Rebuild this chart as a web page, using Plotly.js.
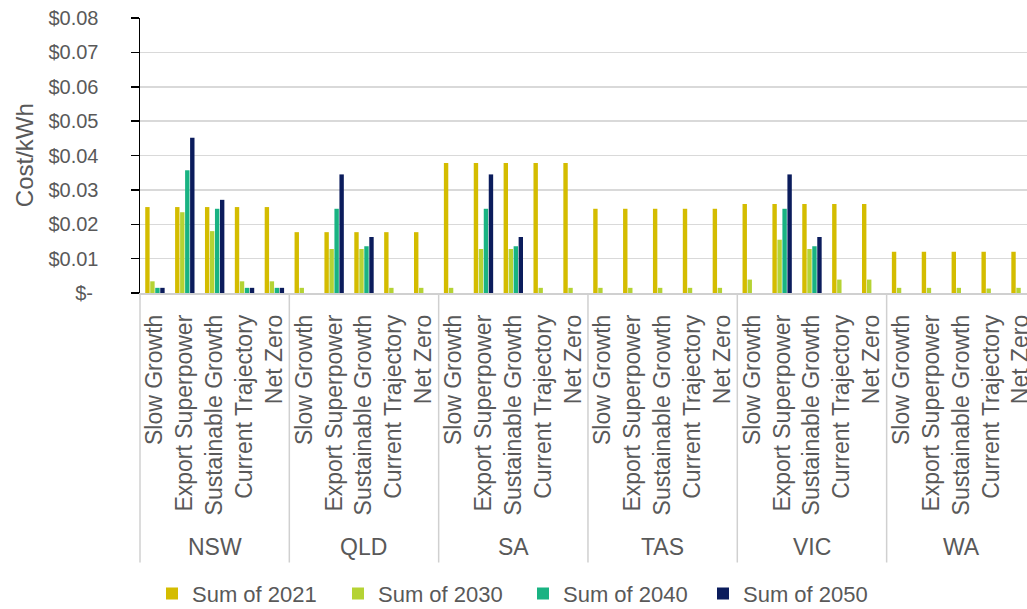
<!DOCTYPE html>
<html>
<head>
<meta charset="utf-8">
<script src="https://cdn.plot.ly/plotly-3.0.1.min.js"></script>
<style>html,body{margin:0;padding:0;overflow:hidden;background:#fff}</style>
</head>
<body>
<div id="chart" style="width:1027px;height:609px"></div>
<script>
const states = ['NSW', 'QLD', 'SA', 'TAS', 'VIC', 'WA'];
const scenarios = ['Slow Growth', 'Export Superpower', 'Sustainable Growth', 'Current Trajectory', 'Net Zero'];
const seriesNames = ['Sum of 2021', 'Sum of 2030', 'Sum of 2040', 'Sum of 2050'];
const yTickVals = [0, 0.01, 0.02, 0.03, 0.04, 0.05, 0.06, 0.07, 0.08];
const yTickText = ['$-\u00A0', '$0.01', '$0.02', '$0.03', '$0.04', '$0.05', '$0.06', '$0.07', '$0.08'];

// values ordered state by state, scenarios in the order above
const sum2021 = [
  0.025, 0.025, 0.025, 0.025, 0.025,
  0.0177, 0.0177, 0.0177, 0.0177, 0.0177,
  0.0378, 0.0378, 0.0378, 0.0378, 0.0378,
  0.0245, 0.0245, 0.0245, 0.0245, 0.0245,
  0.0259, 0.0259, 0.0259, 0.0259, 0.0259,
  0.0120, 0.0120, 0.0120, 0.0120, 0.0120
];
const sum2030 = [
  0.0034, 0.0235, 0.018, 0.0034, 0.0034,
  0.0015, 0.0128, 0.0128, 0.0015, 0.0015,
  0.0015, 0.0128, 0.0128, 0.0015, 0.0015,
  0.0015, 0.0015, 0.0015, 0.0015, 0.0015,
  0.0039, 0.0155, 0.0128, 0.0039, 0.0039,
  0.0015, 0.0015, 0.0015, 0.0013, 0.0015
];
const sum2040 = [
  0.0015, 0.0357, 0.0245, 0.0015, 0.0015,
  0, 0.0245, 0.0136, 0, 0,
  0, 0.0245, 0.0136, 0, 0,
  0, 0, 0, 0, 0,
  0, 0.0245, 0.0136, 0, 0,
  0, 0, 0, 0, 0
];
const sum2050 = [
  0.0015, 0.0452, 0.0271, 0.0015, 0.0015,
  0, 0.0345, 0.0163, 0, 0,
  0, 0.0345, 0.0163, 0, 0,
  0, 0, 0, 0, 0,
  0, 0.0345, 0.0163, 0, 0,
  0, 0, 0, 0, 0
];

const colors = ['#D4BC00', '#B5D334', '#19B382', '#0B1C5C'];
const FONT = '"Liberation Sans", Arial, sans-serif';
const GREY = '#595959';

const xIdx = [];
const xLabels = [];
states.forEach((s, si) => scenarios.forEach((c, ci) => {
  xIdx.push(si * scenarios.length + ci);
  xLabels.push(c);
}));

const legendIds = ['legend', 'legend2', 'legend3', 'legend4'];
const legendLeft = [152, 338, 523, 703];

const allSeries = [sum2021, sum2030, sum2040, sum2050];
const traces = allSeries.map((vals, i) => ({
  type: 'bar',
  name: seriesNames[i],
  x: xIdx,
  y: vals,
  legend: legendIds[i],
  marker: {color: colors[i], line: {width: 0}},
  hoverinfo: 'none'
}));

const xRange = [-0.5, 29.2];
const toPaper = v => (v - xRange[0]) / (xRange[1] - xRange[0]);

const shapes = [];
const annotations = [];
for (let g = 0; g <= states.length; g++) {
  const xv = g * scenarios.length - 0.5;
  if (xv > xRange[1]) continue;
  shapes.push({
    type: 'line', xref: 'paper', yref: 'paper',
    x0: toPaper(xv), x1: toPaper(xv), y0: 0, y1: -0.98,
    line: {color: '#D0D0D0', width: 1.5}
  });
}
states.forEach((s, si) => {
  annotations.push({
    text: s, xref: 'x', yref: 'paper',
    x: si * scenarios.length + (scenarios.length - 1) / 2,
    y: -0.925, yanchor: 'middle', xanchor: 'center',
    showarrow: false, font: {family: FONT, size: 23, color: GREY}
  });
});
annotations.push({
  text: 'Cost/kWh', xref: 'paper', yref: 'paper',
  x: -0.13, y: 0.5, xanchor: 'center', yanchor: 'middle', textangle: -90,
  showarrow: false, font: {family: FONT, size: 24, color: GREY}
});

const layout = {
  width: 1027, height: 609,
  margin: {l: 140, r: 0, t: 18, b: 316, pad: 0},
  paper_bgcolor: '#fff', plot_bgcolor: '#fff',
  barmode: 'group', bargap: 0.33, bargroupgap: 0.12,
  showlegend: true,
  xaxis: {
    range: xRange, tickmode: 'array', tickvals: xIdx, ticktext: xLabels,
    tickangle: -90, ticks: '', showgrid: false, zeroline: false,
    showline: true, linecolor: '#D0D0D0', linewidth: 1.5,
    ticklabelstandoff: 11, ticklabeloverflow: 'allow',
    tickfont: {family: FONT, size: 23, color: GREY}, fixedrange: true
  },
  yaxis: {
    range: [0, 0.08], tickmode: 'array', tickvals: yTickVals, ticktext: yTickText,
    ticks: 'outside', ticklen: 8, tickcolor: '#000', tickwidth: 1.5,
    showline: true, linecolor: '#000', linewidth: 1.5,
    showgrid: true, gridcolor: '#D9D9D9', gridwidth: 1.5, zeroline: false,
    ticklabelstandoff: 28,
    tickfont: {family: FONT, size: 20, color: GREY}, fixedrange: true
  },
  shapes: shapes,
  annotations: annotations,
  font: {family: FONT, color: GREY}
};
legendIds.forEach((id, i) => {
  layout[id] = {
    orientation: 'h', xref: 'container', yref: 'container',
    x: legendLeft[i] / 1027, xanchor: 'left', y: 0.025, yanchor: 'middle',
    bgcolor: 'rgba(0,0,0,0)', borderwidth: 0,
    font: {family: FONT, size: 22, color: GREY}
  };
});

Plotly.newPlot('chart', traces, layout, {displayModeBar: false, staticPlot: true});
</script>
</body>
</html>
